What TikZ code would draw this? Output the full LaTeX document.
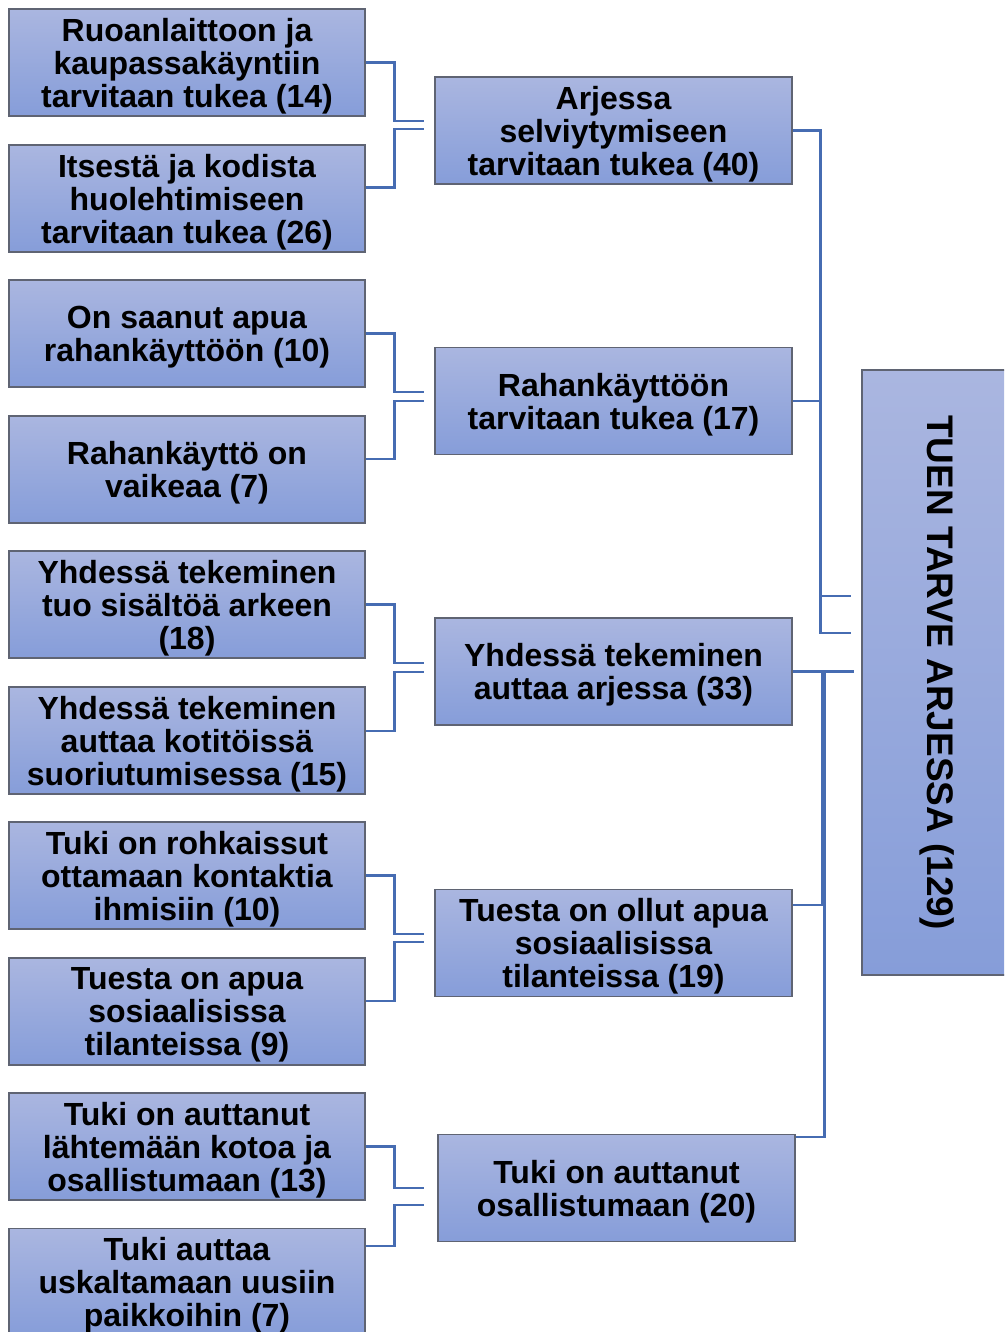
\documentclass[tikz,border=0pt]{standalone}
\usepackage{fontspec}
\setmainfont{Liberation Sans}
\usetikzlibrary{calc}
\definecolor{boxtop}{RGB}{170,182,224}
\definecolor{boxbot}{RGB}{134,157,217}
\definecolor{boxedge}{RGB}{95,100,115}
\definecolor{connc}{RGB}{70,108,178}
\begin{document}
\begin{tikzpicture}[x=1pt,y=-1pt,
  box/.style={draw=boxedge,line width=1.2pt,top color=boxtop,bottom color=boxbot,
    align=center,inner sep=0pt,font=\bfseries\fontsize{32}{33}\selectfont},
  lbox/.style={box,minimum width=356pt,minimum height=107pt,text depth=0pt},
  mbox/.style={box,minimum width=357pt,minimum height=107pt,text depth=0pt},
  conn/.style={draw=connc,line width=2.3pt}]
\useasboundingbox (0,0) rectangle (1004,1332);
\fill[white] (0,0) rectangle (1004,1332);
\clip (0,0) rectangle (1004,1332);
% left column
\node[lbox] (l1) at (187,62.5) {Ruoanlaittoon ja\\kaupassakäyntiin\\tarvitaan tukea (14)};
\node[lbox] (l2) at (187,198.5) {Itsestä ja kodista\\huolehtimiseen\\tarvitaan tukea (26)};
\node[lbox] (l3) at (187,333.5) {On saanut apua\\rahankäyttöön (10)};
\node[lbox] (l4) at (187,469.5) {Rahankäyttö on\\vaikeaa (7)};
\node[lbox] (l5) at (187,604.5) {Yhdessä tekeminen\\tuo sisältöä arkeen\\(18)};
\node[lbox] (l6) at (187,740.5) {Yhdessä tekeminen\\auttaa kotitöissä\\suoriutumisessa (15)};
\node[lbox] (l7) at (187,875.5) {Tuki on rohkaissut\\ottamaan kontaktia\\ihmisiin (10)};
\node[lbox] (l8) at (187,1011.5) {Tuesta on apua\\sosiaalisissa\\tilanteissa (9)};
\node[lbox] (l9) at (187,1146.5) {Tuki on auttanut\\lähtemään kotoa ja\\osallistumaan (13)};
\node[lbox] (l10) at (187,1282) {Tuki auttaa\\uskaltamaan uusiin\\paikkoihin (7)};
% middle column
\node[mbox] (m1) at (613.5,130.5) {Arjessa\\selviytymiseen\\tarvitaan tukea (40)};
\node[mbox] (m2) at (613.5,401) {Rahankäyttöön\\tarvitaan tukea (17)};
\node[mbox] (m3) at (613.5,671.5) {Yhdessä tekeminen\\auttaa arjessa (33)};
\node[mbox] (m4) at (613.5,943) {Tuesta on ollut apua\\sosiaalisissa\\tilanteissa (19)};
\node[mbox] (m5) at (616.5,1188) {Tuki on auttanut\\osallistumaan (20)};
% right column
\node[box,minimum width=150pt,minimum height=605pt] (r) at (937,672.5)
  {\rotatebox{-90}{\fontsize{37}{40}\selectfont TUEN TARVE ARJESSA (129)}};
% connectors left -> middle
\draw[conn] (l1.east) -- ++(29,0) |- ($(m1.west)+(-10,-9.5)$);
\draw[conn] ($(l2.east)+(0,-11)$) -- ++(29,0) |- ($(m1.west)+(-10,-1.5)$);
\draw[conn] (l3.east) -- ++(29,0) |- ($(m2.west)+(-10,-9)$);
\draw[conn] ($(l4.east)+(0,-10.5)$) -- ++(29,0) |- ($(m2.west)+(-10,0)$);
\draw[conn] (l5.east) -- ++(29,0) |- ($(m3.west)+(-10,-8.5)$);
\draw[conn] ($(l6.east)+(0,-9.5)$) -- ++(29,0) |- ($(m3.west)+(-10,0.5)$);
\draw[conn] (l7.east) -- ++(29,0) |- ($(m4.west)+(-10,-9)$);
\draw[conn] ($(l8.east)+(0,-10.5)$) -- ++(29,0) |- ($(m4.west)+(-10,-1)$);
\draw[conn] (l9.east) -- ++(29,0) |- ($(m5.west)+(-13,0)$);
\draw[conn] ($(l10.east)+(0,-36)$) -- ++(29,0) |- ($(m5.west)+(-13,17)$);
% connectors middle -> right
\coordinate (cj) at ($(m3.east -| r.west)+(-7,0)$);
\draw[conn] (m1.east) -- ++(28,0) |- ($(r.west)+(-10,-39.5)$);
\draw[conn] (m2.east) -- ++(28,0) |- ($(r.west)+(-10,-76.5)$);
\draw[conn] (m3.east) -- (cj);
\draw[conn] ($(m4.east)+(0,-38)$) -- ++(30,0) |- (cj);
\draw[conn] ($(m5.east)+(0,-51)$) -- ++(29,0) |- (cj);
\end{tikzpicture}
\end{document}
